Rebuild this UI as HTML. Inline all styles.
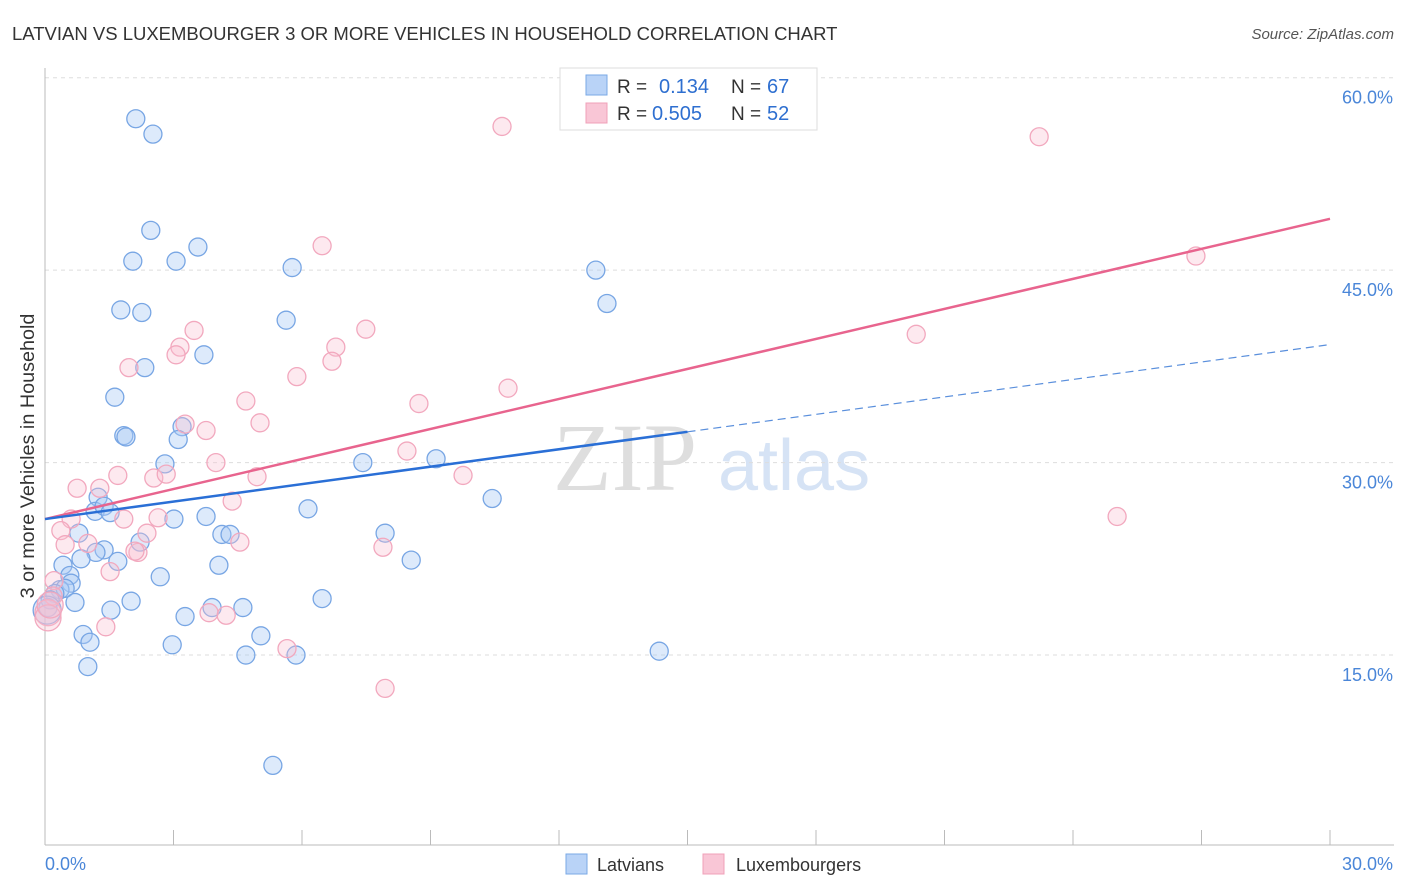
<!DOCTYPE html>
<html><head><meta charset="utf-8"><style>
body{margin:0;background:#fff;}
svg{display:block;font-family:"Liberation Sans",sans-serif;}
</style></head><body>
<svg id="chart" width="1406" height="892">
<text x="12" y="40" font-size="18.5" fill="#333">LATVIAN VS LUXEMBOURGER 3 OR MORE VEHICLES IN HOUSEHOLD CORRELATION CHART</text>
<text x="1394" y="39" font-size="15" fill="#555" font-style="italic" text-anchor="end">Source: ZipAtlas.com</text>
<text transform="translate(34,456) rotate(-90)" font-size="19.8" fill="#333" text-anchor="middle">3 or more Vehicles in Household</text>
<g>
<text x="553" y="490" font-size="96" font-family="Liberation Serif,serif" fill="#dedede">ZIP</text>
<text x="718" y="490" font-size="72" fill="#d6e3f5">atlas</text>
</g>
<g id="grid"></g>
<g id="axes"></g>
<g id="pts"></g>
<g id="trend"></g>
<g>
<rect x="560" y="68" width="257" height="62" fill="#fff" stroke="#ddd"/>
<rect x="586" y="75" width="21" height="20" fill="#b9d3f7" stroke="#7aa8e6"/>
<rect x="586" y="103" width="21" height="20" fill="#f9c6d6" stroke="#f0a0b8"/>
<text x="617" y="93" font-size="19" fill="#333">R = </text><text x="659" y="93" font-size="20" fill="#2e6fd0">0.134</text>
<text x="731" y="93" font-size="19" fill="#333">N = </text><text x="767" y="93" font-size="20" fill="#2e6fd0">67</text>
<text x="617" y="120" font-size="19" fill="#333">R = </text><text x="652" y="120" font-size="20" fill="#2e6fd0">0.505</text>
<text x="731" y="120" font-size="19" fill="#333">N = </text><text x="767" y="120" font-size="20" fill="#2e6fd0">52</text>
</g>
<g>
<rect x="566" y="854" width="21" height="20" fill="#b9d3f7" stroke="#7aa8e6"/>
<text x="597" y="871" font-size="18" fill="#333">Latvians</text>
<rect x="703" y="854" width="21" height="20" fill="#f9c6d6" stroke="#f0a0b8"/>
<text x="736" y="871" font-size="18" fill="#333">Luxembourgers</text>
</g>
</svg>
<script>
const yTicks=[15,30,45,60];
const yTickLabels=["15.0%","30.0%","45.0%","60.0%"];
const xTickLabels=["0.0%","30.0%"];
const blueX=[2.12,2.52,2.47,2.05,3.06,3.57,5.77,12.86,13.12,1.77,2.26,5.63,3.71,2.33,1.63,1.84,1.89,3.20,3.11,2.80,7.42,9.13,10.44,1.24,1.17,1.38,1.52,3.01,3.76,6.14,0.79,4.13,4.32,7.94,2.22,1.38,1.19,0.84,1.70,0.42,4.06,8.55,2.69,0.58,0.61,0.35,0.47,0.23,0.12,0.70,2.01,0.07,1.54,3.27,3.90,4.62,6.47,0.89,1.05,2.97,5.04,4.69,5.86,14.34,1.00,5.32,0.05];
const blueY=[56.8,55.6,48.1,45.7,45.7,46.8,45.2,45.0,42.4,41.9,41.7,41.1,38.4,37.4,35.1,32.1,32.0,32.8,31.8,29.9,30.0,30.3,27.2,27.3,26.2,26.6,26.1,25.6,25.8,26.4,24.5,24.4,24.4,24.5,23.8,23.2,23.0,22.5,22.3,22.0,22.0,22.4,21.1,21.2,20.6,20.1,20.2,19.8,19.3,19.1,19.2,18.7,18.5,18.0,18.7,18.7,19.4,16.6,16.0,15.8,16.5,15.0,15.0,15.3,14.1,6.4,18.5];
const pinkX=[10.67,23.21,6.47,26.87,3.48,7.49,3.15,6.79,3.06,6.70,5.88,1.96,20.34,10.81,8.73,4.69,5.02,3.76,3.27,8.45,3.99,0.75,1.70,1.28,2.54,2.83,4.95,9.76,4.37,1.84,2.64,0.61,0.37,2.38,4.55,0.47,1.00,7.89,1.52,2.17,2.10,0.21,0.19,25.03,1.42,3.83,4.23,5.65,7.94,0.07,0.07,0.12];
const pinkY=[56.2,55.4,46.9,46.1,40.3,40.4,39.0,39.0,38.4,37.9,36.7,37.4,40.0,35.8,34.6,34.8,33.1,32.5,33.0,30.9,30.0,28.0,29.0,28.0,28.8,29.1,28.9,29.0,27.0,25.6,25.7,25.6,24.7,24.5,23.8,23.6,23.7,23.4,21.5,23.0,23.1,20.8,19.6,25.8,17.2,18.3,18.1,15.5,12.4,18.3,17.9,18.9];
const pinkTrendX=[0,30];
const pinkTrendY=[25.6,49.0];
const blueTrendX=[0,15.0,30];
const blueTrendY=[25.6,32.4,39.2];
const NS="http://www.w3.org/2000/svg";
const X0=45,X1=1330,Y0=847.5,PPY=12.83;
const sx=v=>X0+v/30*(X1-X0);
const sy=v=>Y0-v*PPY;
function mk(t,a,p){const e=document.createElementNS(NS,t);for(const k in a)e.setAttribute(k,a[k]);p.appendChild(e);return e;}
const grid=document.getElementById('grid'),axes=document.getElementById('axes'),pts=document.getElementById('pts'),tr=document.getElementById('trend');
yTicks.forEach((v,i)=>{
 const l=mk('line',{x1:45,x2:1394,y1:sy(v),y2:sy(v),stroke:'#ddd','stroke-dasharray':'4,4'},grid);
 
 
 const t=mk('text',{x:1393,y:sy(v)+26,'font-size':18,fill:'#4a86d8','text-anchor':'end'},grid);
 t.textContent=yTickLabels[i];
 
 
});
const ya=mk('line',{x1:45,x2:45,y1:68,y2:845,stroke:'#bbb'},axes);


const xa=mk('line',{x1:45,x2:1394,y1:845,y2:845,stroke:'#bbb'},axes);


for(let k=1;k<=10;k++){
 const tk=mk('line',{x1:sx(k*3),x2:sx(k*3),y1:830,y2:845,stroke:'#bbb'},axes);
 
 
}
const xl0=mk('text',{x:45,y:870,'font-size':18,fill:'#4a86d8'},axes);xl0.textContent=xTickLabels[0];


const xl1=mk('text',{x:1393,y:870,'font-size':18,fill:'#4a86d8','text-anchor':'end'},axes);xl1.textContent=xTickLabels[1];


blueX.forEach((v,i)=>{
 const c=mk('circle',{cx:sx(v),cy:sy(blueY[i]),r:i==66?14:9,fill:'rgba(170,202,244,0.4)',stroke:'#78a6e4','stroke-width':1.3},pts);
 
 
});
pinkX.forEach((v,i)=>{
 const c=mk('circle',{cx:sx(v),cy:sy(pinkY[i]),r:i>=49?13:9,fill:'rgba(248,192,210,0.35)',stroke:'#f2a8be','stroke-width':1.3},pts);
 
 
});
const pl=mk('line',{x1:sx(pinkTrendX[0]),y1:sy(pinkTrendY[0]),x2:sx(pinkTrendX[1]),y2:sy(pinkTrendY[1]),stroke:'#e8648e','stroke-width':2.5},tr);


const bl=mk('line',{x1:sx(blueTrendX[0]),y1:sy(blueTrendY[0]),x2:sx(blueTrendX[1]),y2:sy(blueTrendY[1]),stroke:'#2a6fd6','stroke-width':2.5},tr);


const bd=mk('line',{x1:sx(blueTrendX[1]),y1:sy(blueTrendY[1]),x2:sx(blueTrendX[2]),y2:sy(blueTrendY[2]),stroke:'#5a8fdc','stroke-width':1.2,'stroke-dasharray':'8,5'},tr);


</script>
</body></html>
